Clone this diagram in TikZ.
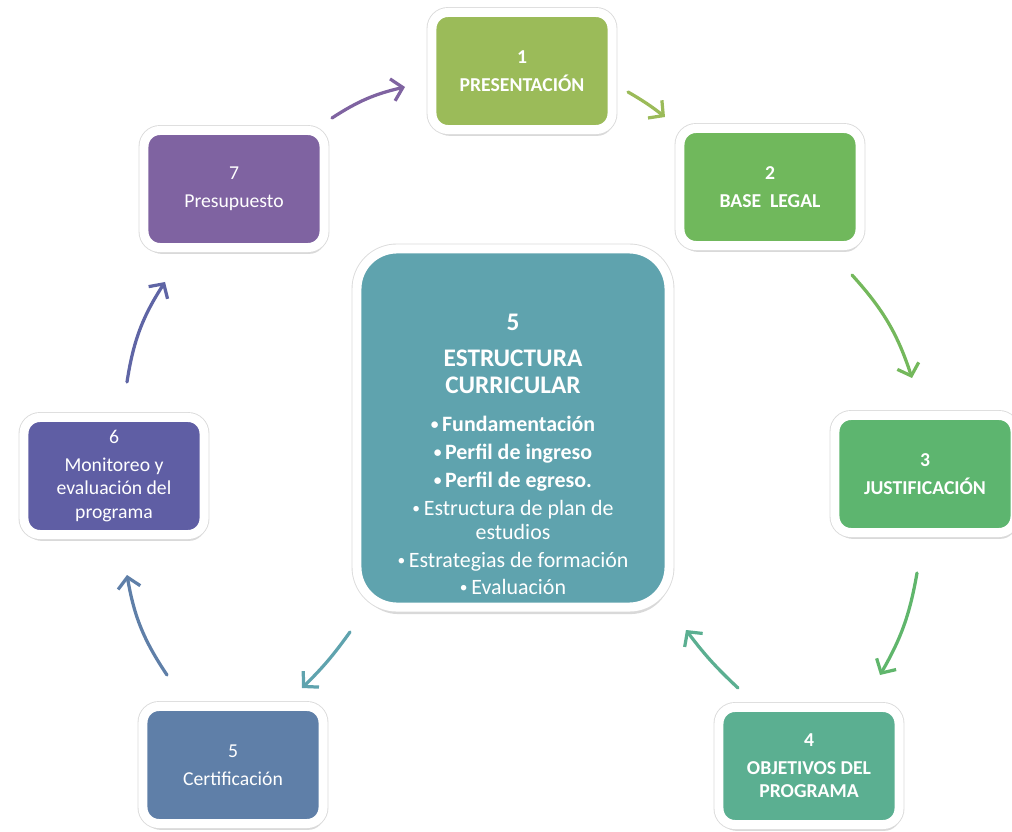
\documentclass[tikz,border=0pt]{standalone}
\usepackage{fontspec}
\setmainfont{Carlito}
\usetikzlibrary{arrows.meta,calc,shadows}

\definecolor{presC}{HTML}{9BBB59}
\definecolor{baseC}{HTML}{70B85C}
\definecolor{justC}{HTML}{5DB56F}
\definecolor{objC}{HTML}{5BAF91}
\definecolor{certC}{HTML}{5F7FA8}
\definecolor{moniC}{HTML}{5F5EA4}
\definecolor{presuC}{HTML}{7F63A1}
\definecolor{coreC}{HTML}{5FA3AE}

\newcommand{\itemdot}{\raisebox{1.2pt}{\fontsize{11}{11}\selectfont•}\,}

\begin{document}
\begin{tikzpicture}[
      x=0.025cm, y=0.025cm,
      stage/.style={rectangle,rounded corners=0.4cm,draw=white,line width=0.225cm,
        minimum width=4.5cm,minimum height=2.925cm,align=center,text=white,
        font=\fontsize{14}{16.4}\selectfont,
        drop shadow={shadow xshift=1pt,shadow yshift=-4.5pt,opacity=0.3},
        preaction={draw=black!14,line width=0.27cm}},
      corebox/.style={rectangle,rounded corners=1cm,draw=white,line width=0.225cm,
        minimum width=7.8cm,minimum height=8.95cm,fill=coreC,
        drop shadow={shadow xshift=1pt,shadow yshift=-5pt,opacity=0.3},
        preaction={draw=black!14,line width=0.27cm}},
      coretxt/.style={align=center,text=white,font=\fontsize{15.6}{17.1}\selectfont},
      link/.style={->,line width=2.3pt,line cap=round},
      >={Straight Barb[length=7.5pt,width=16pt]}
    ]
    \useasboundingbox (0,0) rectangle (1012,831);

    % Cycle stages
    \node[stage,fill=presC] (pres) at (522,760) {\bfseries 1\\[3.5pt]\bfseries PRESENTACIÓN};
    \node[stage,fill=baseC] (base) at (770,644) {\bfseries 2\\[3.5pt]\bfseries BASE\hspace{0.45em}LEGAL};
    \node[stage,fill=justC] (just) at (925,357) {\bfseries 3\\[3.5pt]\bfseries JUSTIFICACIÓN};
    \node[stage,fill=objC] (obj) at (809,65) {\bfseries 4\\[3.5pt]\bfseries OBJETIVOS DEL\\\bfseries PROGRAMA};
    \node[stage,fill=certC] (cert) at (233,66) {5\\[3.5pt]Certificación};
    \node[stage,fill=moniC] (moni) at (114,355) {6\\[3.5pt]Monitoreo y\\evaluación del\\programa};
    \node[stage,fill=presuC] (presu) at (234,642) {7\\[3.5pt]Presupuesto};

    % Central stage
    \node[corebox] (core) at (513,403) {};
    \node[coretxt] (corelist) at ($(core)+(0,-26)$) {%
      {\fontsize{18}{17.1}\selectfont\bfseries 5}\\[8.5pt]
      {\fontsize{18}{17.1}\selectfont\bfseries ESTRUCTURA}\\[2.1pt]
      {\fontsize{18}{17.1}\selectfont\bfseries CURRICULAR}\\[9.9pt]
      \bfseries \itemdot Fundamentación\\[2.8pt]
      \bfseries \itemdot Perfil de ingreso\\[2.8pt]
      \bfseries \itemdot Perfil de egreso.\\[2.8pt]
      \itemdot Estructura de plan de\\
      estudios\\[2.8pt]
      \itemdot Estrategias de formación\\[2.1pt]
      \itemdot Evaluación};

    % Arrows round the cycle
    \draw[link,presuC] ($(presu)+(98,71)$) to[bend left=10] ($(pres)+(-117,-16)$);
    \draw[link,presC] ($(pres)+(106,-21)$) to[bend left=4] ($(base)+(-105,70)$);
    \draw[link,baseC!90!presC] ($(base)+(82,-88)$) to[bend left=12] ($(just)+(-13,96)$);
    \draw[link,justC!85!baseC] ($(just)+(-8,-99)$) to[bend left=10] ($(obj)+(71,91)$);
    \draw[link,objC] ($(obj)+(-71,78)$) to[bend left=5] ($(core)+(173,-202)$);
    \draw[link,coreC] ($(core)+(-163,-204)$) to[bend left=5] ($(cert)+(69,77)$);
    \draw[link,certC] ($(cert)+(-66,90)$) to[bend left=12] ($(moni)+(13,-99)$);
    \draw[link,moniC!80!certC] ($(moni)+(13,94)$) to[bend left=12] ($(presu)+(-69,-93)$);

  \end{tikzpicture}
\end{document}
